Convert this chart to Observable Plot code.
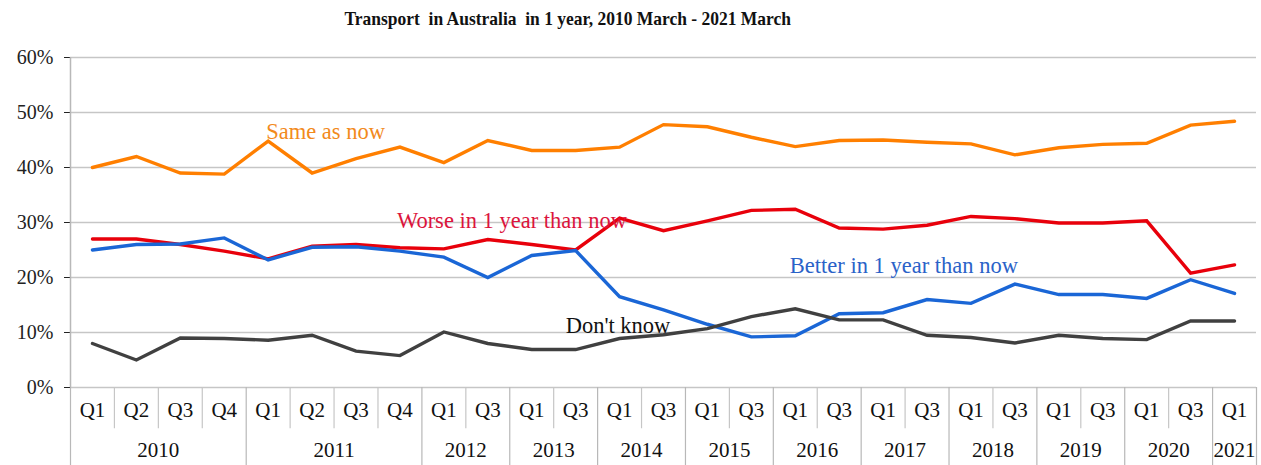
<!DOCTYPE html>
<html>
<head>
<meta charset="utf-8">
<script src="https://cdn.jsdelivr.net/npm/d3@7"></script>
<script src="https://cdn.jsdelivr.net/npm/@observablehq/plot@0.6"></script>
<style>
  html, body { margin: 0; padding: 0; background: #fff; overflow: hidden; }
  #title { width: 1136px; height: 36px; text-align: center; font-family: "Liberation Serif", serif; font-weight: bold; font-size: 19px; line-height: 37px; color: #111; }
  #title span { display: inline-block; transform: scale(0.92, 1); }
</style>
</head>
<body>
<div id="title"><span>Transport&nbsp; in Australia&nbsp; in 1 year, 2010 March - 2021 March</span></div>
<div id="chart"></div>
<script>
const years    = ["2010","2010","2010","2010","2011","2011","2011","2011","2012","2012","2013","2013","2014","2014","2015","2015","2016","2016","2017","2017","2018","2018","2019","2019","2020","2020","2021"];
const quarters = ["Q1","Q2","Q3","Q4","Q1","Q2","Q3","Q4","Q1","Q3","Q1","Q3","Q1","Q3","Q1","Q3","Q1","Q3","Q1","Q3","Q1","Q3","Q1","Q3","Q1","Q3","Q1"];
const sameAsNow = [40,42,39,38.8,44.8,39,41.6,43.7,40.9,44.9,43.1,43.1,43.7,47.8,47.4,45.5,43.8,44.9,45,44.6,44.3,42.3,43.6,44.2,44.4,47.7,48.4];
const worse     = [27,27,26,24.8,23.4,25.7,26,25.4,25.2,26.9,26,25,30.8,28.5,30.3,32.2,32.4,29,28.8,29.5,31.1,30.7,29.9,29.9,30.3,20.8,22.3];
const better    = [25,26,26.1,27.2,23.2,25.5,25.6,24.8,23.7,20,24,24.9,16.5,14.1,11.5,9.2,9.4,13.4,13.6,16,15.3,18.8,16.9,16.9,16.2,19.6,17.1];
const dontKnow  = [8,5,9,8.9,8.6,9.5,6.6,5.8,10.1,8,6.9,6.9,8.9,9.6,10.7,12.9,14.3,12.3,12.3,9.5,9.1,8.1,9.5,8.9,8.7,12.1,12.1];
const seriesNames = ["Same as now","Worse in 1 year than now","Better in 1 year than now","Don't know"];
const yTicks = [0,10,20,30,40,50,60];

const colors = {"Same as now":"#ff7f00","Worse in 1 year than now":"#e8000b","Better in 1 year than now":"#1a66d6","Don't know":"#404040"};
const seriesValues = [sameAsNow, worse, better, dontKnow];

const rows = [];
seriesNames.forEach((name, s) => seriesValues[s].forEach((v, i) => rows.push({series: name, i: i + 0.5, v})));

// category cells and year groups
const cells = quarters.map((q, i) => ({q, year: years[i], i}));
const yearGroups = [];
years.forEach((y, i) => {
  const last = yearGroups[yearGroups.length - 1];
  if (last && last.year === y) last.end = i + 1; else yearGroups.push({year: y, start: i, end: i + 1});
});
const yearBounds = [...new Set(yearGroups.flatMap(g => [g.start, g.end]))];
const qBounds = d3.range(1, years.length).filter(b => !yearBounds.includes(b));

const serif = "Liberation Serif, Times New Roman, serif";
const idx = (arr, k) => ({i: k + 0.5, v: arr[k]});

const chart = Plot.plot({
  width: 1261,
  height: 429,
  marginLeft: 70,
  marginRight: 5,
  marginTop: 21,
  marginBottom: 78,
  style: {fontFamily: serif, fontSize: "20px", color: "#222", background: "#fff", overflow: "visible"},
  x: {type: "linear", domain: [0, years.length], axis: null},
  y: {domain: [0, 60], ticks: yTicks, tickFormat: d => d + "%", tickSize: 6, tickPadding: 11, label: null},
  marks: [
    Plot.ruleY(yTicks, {stroke: "#c6c6c6", strokeWidth: 1.5}),
    Plot.ruleX([0], {y1: 0, y2: 60, stroke: "#b8b8b8", strokeWidth: 1.5}),
    Plot.ruleX(qBounds, {y1: 0, y2: -7.5, stroke: "#c6c6c6", strokeWidth: 1.2}),
    Plot.ruleX(yearBounds, {y1: 0, y2: -14.3, stroke: "#b8b8b8", strokeWidth: 1.2}),
    Plot.text(cells, {x: d => d.i + 0.5, y: -4.2, text: "q", fontSize: 21, fill: "#111"}),
    Plot.text(yearGroups, {x: d => (d.start + d.end) / 2, y: -11.5, text: "year", fontSize: 21, fill: "#111"}),
    Plot.line(rows, {x: "i", y: "v", z: "series", stroke: d => colors[d.series], strokeWidth: 3.4, strokeLinejoin: "miter", strokeMiterlimit: 2}),
    Plot.text([idx(sameAsNow, 4)], {x: "i", y: "v", text: () => seriesNames[0], textAnchor: "start", dx: -2, dy: -9, fontSize: 22.5, fill: "#f28a1c"}),
    Plot.text([idx(worse, 7)], {x: "i", y: "v", text: () => seriesNames[1], textAnchor: "start", dx: -3, dy: -27, fontSize: 22.5, fill: "#dc143c"}),
    Plot.text([idx(better, 21)], {x: "i", y: "v", text: () => seriesNames[2], textAnchor: "end", dx: 3, dy: -18, fontSize: 22.5, fill: "#2a62c8"}),
    Plot.text([idx(dontKnow, 11)], {x: "i", y: "v", text: () => seriesNames[3], textAnchor: "start", dx: -10, dy: -24, fontSize: 22.5, fill: "#111"})
  ]
});
document.getElementById("chart").appendChild(chart);
</script>
</body>
</html>
